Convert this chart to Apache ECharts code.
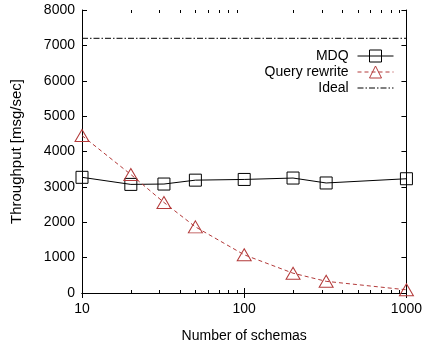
<!DOCTYPE html>
<html><head><meta charset="utf-8">
<script src="https://cdn.jsdelivr.net/npm/echarts@6/dist/echarts.min.js"></script>
<style>html,body{margin:0;padding:0;background:#fff}#c{width:425px;height:349px}</style>
</head><body><div id="c"></div>
<script>
const schemas = [10, 20, 32, 50, 100, 200, 320, 1000];
const mdq = [3270, 3070, 3080, 3190, 3210, 3250, 3110, 3230];
const queryRewrite = [4450, 3350, 2560, 1870, 1080, 560, 330, 90];
const idealX = [10, 1000];
const ideal = [7200, 7200];
const xMinorTicks = [20, 30, 40, 50, 60, 70, 80, 90, 200, 300, 400, 500, 600, 700, 800, 900];
const seriesNames = ['MDQ', 'Query rewrite', 'Ideal'];

const FONT = '"Liberation Sans", Arial, sans-serif';
const RED = '#b33a3a';
const zip = (xs, ys) => xs.map((x, i) => [x, ys[i]]);

const chart = echarts.init(document.getElementById('c'), null, {renderer: 'canvas'});
const axisCommon = {
  axisLine: {show: true, lineStyle: {color: '#000', width: 1}},
  axisTick: {show: true, inside: true, length: 5, lineStyle: {color: '#000'}},
  splitLine: {show: false}
};
chart.setOption({
  animation: false,
  backgroundColor: '#fff',
  textStyle: {fontFamily: FONT},
  grid: {left: 82, right: 17, top: 10, bottom: 56},
  legend: {
    data: [
      {name: seriesNames[0]},
      {name: seriesNames[1]},
      {name: seriesNames[2], itemStyle: {opacity: 0}}
    ],
    orient: 'vertical',
    align: 'right',
    right: 26,
    top: 44,
    itemWidth: 36,
    itemHeight: 15,
    itemGap: 2,
    lineStyle: {width: 1},
    itemStyle: {borderWidth: 1},
    formatter: n => n + ' ',
    textStyle: {fontSize: 14, color: '#000', fontFamily: FONT}
  },
  xAxis: [
    Object.assign({
      type: 'log', min: 10, max: 1000, position: 'bottom',
      name: 'Number of schemas', nameLocation: 'middle', nameGap: 36,
      nameTextStyle: {fontSize: 14, color: '#000', fontFamily: FONT},
      axisLabel: {fontSize: 14, color: '#000', margin: 9, fontFamily: FONT, showMaxLabel: true,
        formatter: v => String(v)}
    }, axisCommon),
    Object.assign({
      type: 'log', min: 10, max: 1000, position: 'top',
      axisLabel: {show: false}
    }, axisCommon)
  ],
  yAxis: [
    Object.assign({
      type: 'value', min: 0, max: 8000, interval: 1000, position: 'left',
      name: 'Throughput [msg/sec]', nameLocation: 'middle', nameGap: 58, nameRotate: 90,
      nameTextStyle: {fontSize: 15, color: '#000', fontFamily: FONT},
      axisLabel: {fontSize: 14, color: '#000', margin: 7, fontFamily: FONT, formatter: v => String(v)}
    }, axisCommon),
    Object.assign({
      type: 'value', min: 0, max: 8000, interval: 1000, position: 'right',
      axisLabel: {show: false}
    }, axisCommon)
  ],
  series: [
    {
      name: 'MDQ', type: 'line', data: zip(schemas, mdq),
      symbol: 'rect', symbolSize: 12,
      itemStyle: {color: 'rgba(0,0,0,0)', borderColor: '#000', borderWidth: 1},
      lineStyle: {color: '#000', width: 1},
      z: 3
    },
    {
      name: 'Query rewrite', type: 'line', data: zip(schemas, queryRewrite),
      symbol: 'triangle', symbolSize: [14, 12],
      itemStyle: {color: 'rgba(0,0,0,0)', borderColor: RED, borderWidth: 1},
      lineStyle: {color: RED, width: 1, type: [4, 3]},
      z: 3
    },
    {
      name: 'Ideal', type: 'line', data: zip(idealX, ideal),
      symbol: 'none',
      itemStyle: {color: '#000'},
      lineStyle: {color: '#000', width: 1, type: [6, 2, 1.5, 2]},
      z: 2
    },
    {
      name: 'minorTicks', type: 'custom', data: xMinorTicks.map(v => [v, 0]),
      silent: true, z: 1,
      renderItem: function (params, api) {
        const b = api.coord([api.value(0), 0]);
        const t = api.coord([api.value(0), 8000]);
        const x = Math.round(b[0]) + 0.5;
        return {
          type: 'group',
          children: [
            {type: 'line', shape: {x1: x, y1: b[1], x2: x, y2: b[1] - 3}, style: {stroke: '#000', lineWidth: 1}},
            {type: 'line', shape: {x1: x, y1: t[1], x2: x, y2: t[1] + 3}, style: {stroke: '#000', lineWidth: 1}}
          ]
        };
      }
    }
  ]
});
</script>
</body></html>
